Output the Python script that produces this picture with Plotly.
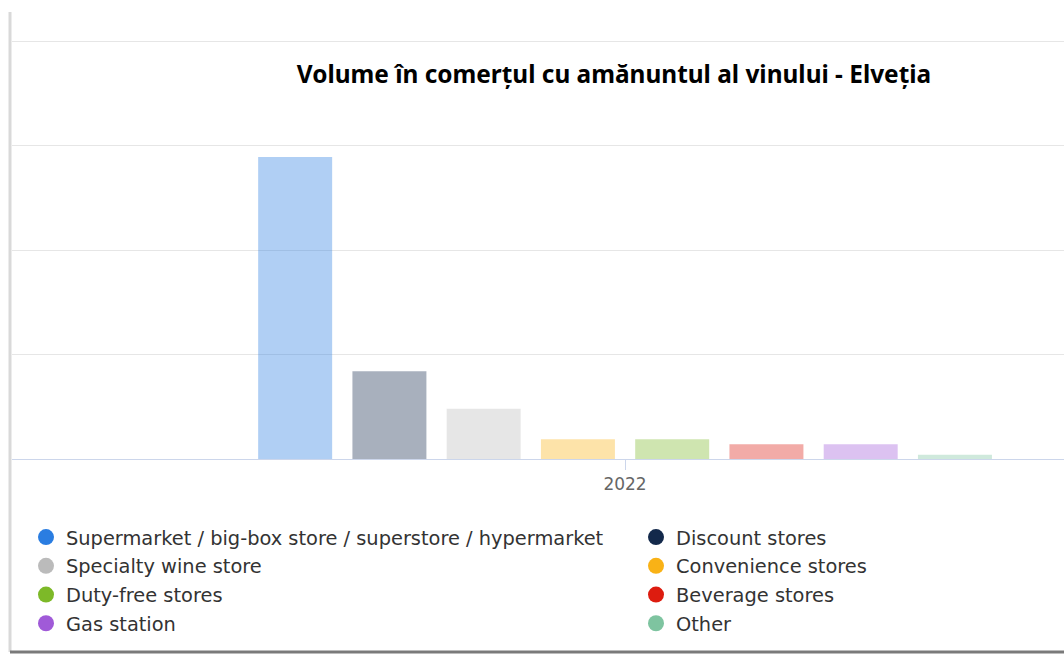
import plotly.graph_objects as go

# Wine retail volume by channel, Switzerland 2022
year = ["2022"]
channels = [
    "Supermarket / big-box store / superstore / hypermarket",
    "Discount stores",
    "Specialty wine store",
    "Convenience stores",
    "Duty-free stores",
    "Beverage stores",
    "Gas station",
    "Other",
]
volumes = [289, 84, 48, 19, 19, 14, 14, 4]
colors = ["#2a7de1", "#13294b", "#bbbbbb", "#f9b216", "#7db928", "#dd1c0f", "#a05ad8", "#7ec4a0"]
# legend column for each channel
legend_ids = ["legend", "legend2"] * 4

fig = go.Figure()

for name, val, col in zip(channels, volumes, colors):
    fig.add_trace(go.Bar(
        x=year, y=[val], name=name, legendgroup=name, showlegend=False,
        marker=dict(color=col, opacity=0.37, line=dict(width=0)),
    ))

# circle swatches for the two legend columns
for name, col, lg in zip(channels, colors, legend_ids):
    fig.add_trace(go.Scatter(
        x=[None], y=[None], mode="markers", name=name, legendgroup=name,
        legend=lg, marker=dict(color=col, size=16, symbol="circle"),
    ))

W, H = 1064, 654
left, top, base = 12, 38, 459

legend_font = dict(family="DejaVu Sans", size=19.4, color="#333333")
legend_top = (base - 518) / (base - top)

fig.update_layout(
    width=W, height=H,
    margin=dict(l=left, r=0, t=top, b=H - base, autoexpand=False),
    paper_bgcolor="white", plot_bgcolor="white",
    barmode="group", bargap=0.385, bargroupgap=0.215,
    showlegend=True,
    title=dict(
        text="<b>Volume în comerțul cu amănuntul al vinului - Elveția</b>",
        font=dict(family="Noto Sans", size=24.4, color="#000000"),
        x=(614 - left) / (W - left), xanchor="center", xref="paper",
        y=1 - 74 / H, yanchor="middle", yref="container",
    ),
    legend=dict(
        x=(26 - left) / (W - left), xanchor="left",
        y=legend_top, yanchor="top",
        orientation="v", font=legend_font, bgcolor="rgba(0,0,0,0)",
        tracegroupgap=0.5, borderwidth=0,
    ),
    legend2=dict(
        x=(636 - left) / (W - left), xanchor="left",
        y=legend_top, yanchor="top",
        orientation="v", font=legend_font, bgcolor="rgba(0,0,0,0)",
        tracegroupgap=0.5, borderwidth=0,
    ),
    xaxis=dict(
        type="category", range=[-0.5, 0.358], showgrid=False,
        showline=True, linecolor="#ccd6eb", linewidth=1,
        ticks="outside", ticklen=10, tickcolor="#ccd6eb",
        tickfont=dict(family="DejaVu Sans", size=17, color="#666666"),
    ),
    yaxis=dict(
        range=[0, 403], tickvals=[0, 100, 200, 300, 400],
        showgrid=True, gridcolor="#e6e6e6", gridwidth=1,
        showticklabels=False, zeroline=False, showline=False,
    ),
    shapes=[
        # frame: light left rule and darker bottom rule
        dict(type="line", xref="paper", yref="paper",
             x0=(10 - left) / (W - left), x1=(10 - left) / (W - left),
             y0=(base - 652) / (base - top), y1=(base - 12) / (base - top),
             line=dict(color="#d9d9d9", width=3)),
        dict(type="line", xref="paper", yref="paper",
             x0=(10 - left) / (W - left), x1=1.0,
             y0=(base - 652) / (base - top), y1=(base - 652) / (base - top),
             line=dict(color="#7a7a7a", width=3)),
    ],
)

fig.write_html("out.html")
